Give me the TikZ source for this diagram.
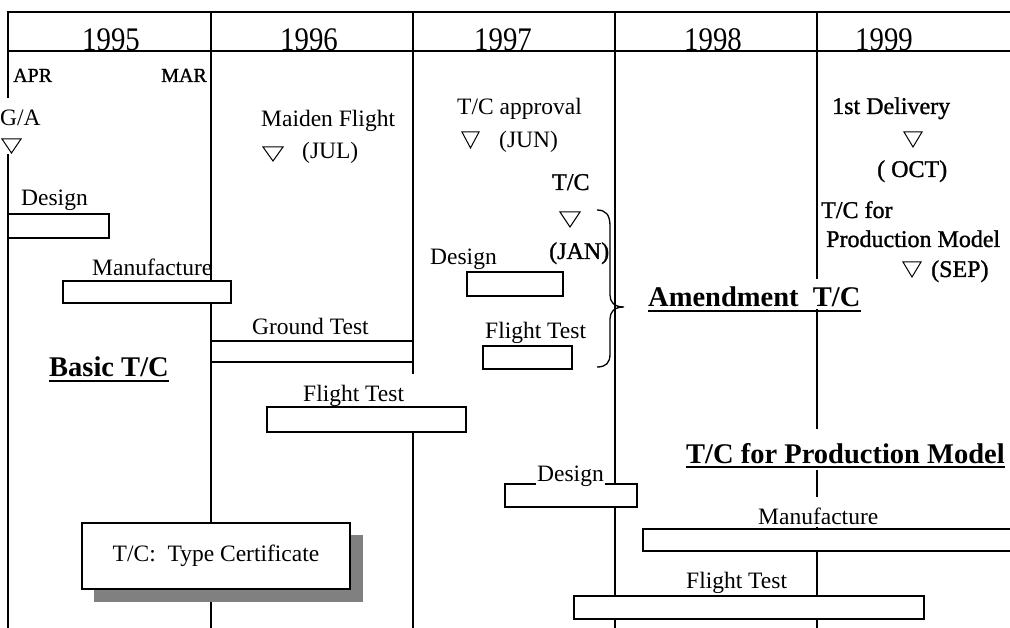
\documentclass[tikz,border=0pt]{standalone}
\usepackage{fontspec}
\setmainfont{Liberation Serif}
\newfontfamily\heavyfont[FakeBold=1.2]{Liberation Serif}
\usetikzlibrary{calc}
\newcommand{\yeartext}[1]{\scalebox{0.9}[1.03]{\fontsize{32}{36}\selectfont #1}}
\tikzset{
  grid/.style={line width=2pt, line cap=rect},
  bar/.style={draw, line width=2pt, fill=white},
  tri/.style={draw, line width=1pt, line join=miter},
  txt/.style={font=\fontsize{23.5}{28}\selectfont, inner sep=0pt, anchor=base west},
  hv/.style={font=\heavyfont\fontsize{24}{28}\selectfont, inner sep=0pt, anchor=base west},
  sm/.style={font=\heavyfont\fontsize{20}{24}\selectfont, inner sep=0pt, anchor=base west},
  ttl/.style={font=\bfseries\fontsize{28.5}{32}\selectfont, inner sep=0pt, anchor=base west},
  yr/.style={inner sep=0pt, anchor=base},
  uline/.style={line width=2pt}
}
\begin{document}
\begin{tikzpicture}[x=1pt, y=-1pt]
\useasboundingbox (0,0) rectangle (1010,628);
\fill[white] (0,0) rectangle (1010,628);

% years
\node[yr] (y95) at (111,51) {\yeartext{1995}};
\node[yr] (y96) at (309,51) {\yeartext{1996}};
\node[yr] (y97) at (503,51) {\yeartext{1997}};
\node[yr] (y98) at (713,51) {\yeartext{1998}};
\node[yr] (y99) at (884,51) {\yeartext{1999}};

% grid
\draw[grid] (8,12) -- (1012,12);
\draw[grid] (8,51) -- (1012,51);
\draw[grid] (8,12) -- (8,97);
\draw[grid] (8,155) -- (8,630);
\draw[grid] (211,12) -- (211,630);
\draw[grid] (413,12) -- (413,373);
\draw[grid] (413,407) -- (413,630);
\draw[grid] (615,12) -- (615,630);
\draw[grid] (817,12) -- (817,278);
\draw[grid] (817,310) -- (817,428);
\draw[grid] (817,471) -- (817,496);
\draw[grid] (817,528) -- (817,630);

% month labels
\node[sm] (apr) at (13,82) {APR};
\node[sm, anchor=base east] (mar) at (207,82) {MAR};

% milestones
\node[txt] (ga) at (0,126) {G/A};
\draw[tri] (2,139) -- (21,139) -- (11.5,153) -- cycle;

\node[txt] (maiden) at (261,127) {Maiden Flight};
\draw[tri] (263,147) -- (283,147) -- (273,161) -- cycle;
\node[txt] (jul) at (302,159) {(JUL)};

\node[txt] (tcapp) at (457,115) {T/C approval};
\draw[tri] (462,132) -- (479,132) -- (470.5,148) -- cycle;
\node[txt] (jun) at (499,148) {(JUN)};

\node[hv] (tcjan) at (552,190) {T/C};
\draw[tri] (560,212) -- (580,212) -- (570,227) -- cycle;
\node[hv] (jan) at (549,259) {(JAN)};

\node[hv] (deliv) at (832,114) {1st Delivery};
\draw[tri] (904,132) -- (922,132) -- (913,147) -- cycle;
\node[hv] (oct) at (877,177) {( OCT)};

\node[hv] (tcfor) at (821,218) {T/C for};
\node[hv] (prodm) at (826,247) {Production Model};
\draw[tri] (903,262) -- (921,262) -- (912,277) -- cycle;
\node[hv] (sep) at (931,277) {(SEP)};

% brace
\draw[line width=1.3pt] (597,210) .. controls (606,210) and (610,215) .. (610,226)
  -- (610,295) .. controls (610,302) and (614,307) .. (624,307)
  .. controls (614,307) and (610,312) .. (610,319)
  -- (610,354) .. controls (610,363) and (606,367) .. (597,367);

% basic T/C bars
\node[txt] (des1) at (21,206) {Design};
\draw[bar] (8,214) rectangle (109,238);
\node[txt] (man1) at (92,276) {Manufacture};
\draw[bar] (63,281) rectangle (231,303);
\node[txt] (gt) at (252,335) {Ground Test};
\draw[bar] (211,341) rectangle (413,362);
\node[txt] (ft1) at (303,402) {Flight Test};
\draw[bar] (267,407) rectangle (466,432);

\node[ttl] (basic) at (49,377) {Basic T/C};
\draw[uline] ($(basic.base west)+(0,4)$) -- ($(basic.base east)+(0,4)$);

% amendment
\node[txt] (des2) at (430,265) {Design};
\draw[bar] (467,272) rectangle (563,296);
\node[txt] (ft2) at (485,339) {Flight Test};
\draw[bar] (483,346) rectangle (572,369);

\node[ttl] (amend) at (648,307) {Amendment\ \ T/C};
\draw[uline] ($(amend.base west)+(0,4)$) -- ($(amend.base east)+(0,4)$);

% production model
\node[ttl] (prod) at (686,463) {T/C for Production Model};
\draw[uline] ($(prod.base west)+(0,4)$) -- ($(prod.base east)+(0,4)$);

\draw[bar] (505,484) rectangle (637,507);
\node[txt, fill=white, inner sep=1pt] (des3) at (536,481) {Design};
\node[txt] (man3) at (758,524) {Manufacture};
\draw[bar] (643,529) rectangle (1020,551);
\node[txt] (ft3) at (686,588) {Flight Test};
\draw[bar] (574,596) rectangle (924,619);

% legend box
\fill[black!50] (94,535) rectangle (363,602);
\node[draw, line width=2pt, fill=white, minimum width=268pt, minimum height=66pt,
      font=\fontsize{23.5}{28}\selectfont, inner sep=0pt] (legend) at (216,556) {T/C:\ \ Type Certificate};
\end{tikzpicture}
\end{document}
